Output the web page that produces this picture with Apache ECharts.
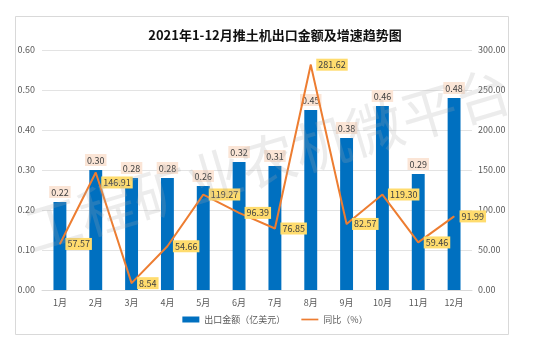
<!DOCTYPE html>
<html>
<head>
<meta charset="utf-8">
<script src="https://cdn.jsdelivr.net/npm/echarts@6/dist/echarts.min.js"></script>
<style>html,body{margin:0;padding:0;background:#fff}#c{width:550px;height:349px}</style>
</head>
<body>
<div id="c"></div>
<script>
const categories = ['1月','2月','3月','4月','5月','6月','7月','8月','9月','10月','11月','12月'];
const exportValue = [0.22,0.30,0.28,0.28,0.26,0.32,0.31,0.45,0.38,0.46,0.29,0.48];
const yoy = [57.57,146.91,8.54,54.66,119.27,96.39,76.85,281.62,82.57,119.30,59.46,91.99];
const leftTicks = [0,0.6,0.1];
const rightTicks = [0,300,50];

const font = '"Noto Sans CJK SC", sans-serif';
const yoyData = yoy.map((v, i) => i === 1 ? {value: v, label: {offset: [0, 10]}} : v);
const chart = echarts.init(document.getElementById('c'));
chart.setOption({
  backgroundColor: '#fff',
  animation: false,
  title: {
    text: '2021年1-12月推土机出口金额及增速趋势图',
    left: 'center', top: 24,
    textStyle: {fontFamily: font, fontSize: 13, fontWeight: 'bold', color: '#111'}
  },
  graphic: [
    {type: 'rect', shape: {x: 15.5, y: 16.5, width: 493, height: 318}, style: {fill: 'none', stroke: '#d9d9d9', lineWidth: 1}, z: -10},
    {type: 'text', x: 268, y: 160, rotation: 0.29, z: 100,
      style: {text: '工程矿业农机微平台', fontSize: 56, fontFamily: font, fill: 'rgba(170,170,170,0.22)', align: 'center', verticalAlign: 'middle'}}
  ],
  legend: {
    bottom: 20, left: 'center', itemWidth: 17, itemHeight: 6, itemGap: 16,
    textStyle: {fontFamily: font, fontSize: 9, color: '#595959'},
    data: [
      {name: '出口金额（亿美元）', icon: 'rect'},
      {name: '同比（%）', icon: 'path://M0,0 L20,0 L20,2 L0,2 Z'}
    ]
  },
  grid: {left: 42, right: 78, top: 50, bottom: 59},
  xAxis: {
    type: 'category', data: categories,
    axisLine: {show: true, lineStyle: {color: '#d9d9d9'}},
    axisTick: {show: false},
    axisLabel: {fontFamily: font, fontSize: 9, color: '#595959', margin: 8}
  },
  yAxis: [
    {type: 'value', min: leftTicks[0], max: leftTicks[1], interval: leftTicks[2],
      axisLabel: {formatter: v => v.toFixed(2), fontFamily: font, fontSize: 9, color: '#595959', margin: 7},
      splitLine: {lineStyle: {color: '#e3e3e3'}}, axisLine: {show: false}, axisTick: {show: false}},
    {type: 'value', min: rightTicks[0], max: rightTicks[1], interval: rightTicks[2],
      axisLabel: {formatter: v => v.toFixed(2), fontFamily: font, fontSize: 9, color: '#595959', margin: 6},
      splitLine: {show: false}, axisLine: {show: false}, axisTick: {show: false}}
  ],
  series: [
    {name: '出口金额（亿美元）', type: 'bar', data: exportValue, barWidth: '36%', yAxisIndex: 0,
      itemStyle: {color: '#0070C0'},
      label: {show: true, position: 'top', distance: 4, formatter: p => p.value.toFixed(2),
        fontFamily: font, fontSize: 9, color: '#404040', backgroundColor: '#FBE5D6', padding: [2, 2, 1, 2]}},
    {name: '同比（%）', type: 'line', data: yoyData, yAxisIndex: 1, symbol: 'circle', symbolSize: 1, showSymbol: true,
      lineStyle: {color: '#ED7D31', width: 2}, itemStyle: {color: '#ED7D31'},
      label: {show: true, position: 'right', distance: 5, formatter: p => p.value.toFixed(2),
        fontFamily: font, fontSize: 9, color: '#404040', backgroundColor: '#FFDC6E', padding: [2, 2, 1, 2]},
      z: 5}
  ]
});
</script>
</body>
</html>
